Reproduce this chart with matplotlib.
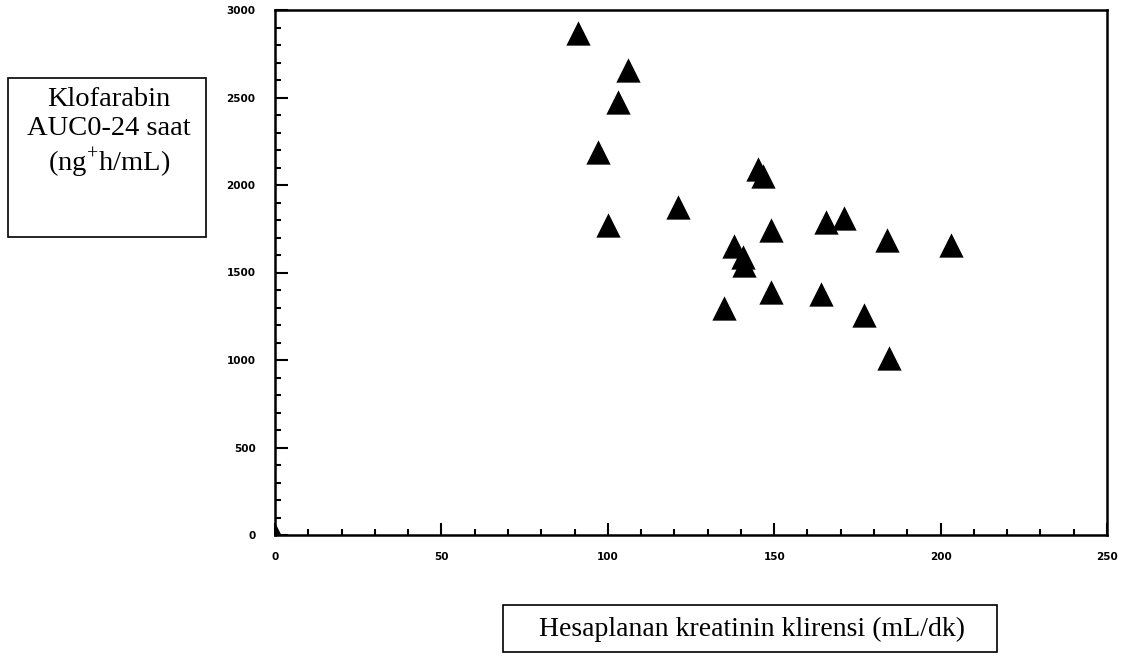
import matplotlib
matplotlib.use("Agg")
import matplotlib.pyplot as plt
from matplotlib.patches import Rectangle
from matplotlib.ticker import MultipleLocator

clearance = [0, 91, 106, 103, 97, 100, 121, 145, 146.5, 149, 165.5, 171, 184, 203,
             138, 140.5, 141, 149, 135, 164, 177, 184.5]
auc = [0, 2870, 2655, 2475, 2190, 1770, 1875, 2090, 2050, 1745, 1790, 1810, 1685, 1655,
       1650, 1590, 1545, 1390, 1295, 1375, 1255, 1010]

x_ticks = [0, 50, 100, 150, 200, 250]
y_ticks = [0, 500, 1000, 1500, 2000, 2500, 3000]

fig = plt.figure(figsize=(11.27, 6.59), dpi=100)
ax = fig.add_axes([275/1127, 1-535/659, (1107-275)/1127, (535-10)/659])

ax.scatter(clearance, auc, marker='^', s=(17.5)**2, color='black', linewidths=0, zorder=3)

ax.set_xlim(0, 250)
ax.set_ylim(0, 3000)
ax.set_xticks(x_ticks)
ax.set_yticks(y_ticks)
ax.xaxis.set_minor_locator(MultipleLocator(10))
ax.yaxis.set_minor_locator(MultipleLocator(100))
ax.set_xticklabels([str(v) for v in x_ticks], fontsize=7.5, fontweight='heavy', family='DejaVu Sans')
ax.set_yticklabels([str(v) for v in y_ticks], fontsize=7.5, fontweight='heavy', family='DejaVu Sans')
ax.tick_params(axis='both', which='major', direction='in', length=9, width=1.5, color='black')
ax.tick_params(axis='both', which='minor', direction='in', length=4, width=1.5, color='black')
ax.tick_params(axis='x', which='major', pad=12)
ax.tick_params(axis='y', which='major', pad=14)
for sp in ax.spines.values():
    sp.set_linewidth(1.8)
    sp.set_color('black')

W, H = 1127, 659
# y label box
fig.patches.append(Rectangle((8/W, 1-237/H), (206-8)/W, (237-78)/H, transform=fig.transFigure,
                             fill=False, edgecolor='black', linewidth=1.2))
fig.text(109/W, 1-87/H, 'Klofarabin\nAUC0-24 saat\n(ng$^{\\mathregular{+}}$h/mL)',
         ha='center', va='top', fontsize=20.5, family='Liberation Serif', linespacing=1.2)

# x label box
fig.patches.append(Rectangle((503/W, 1-652/H), (997-503)/W, (652-605)/H, transform=fig.transFigure,
                             fill=False, edgecolor='black', linewidth=1.2))
fig.text(752/W, 1-629/H, 'Hesaplanan kreatinin klirensi (mL/dk)',
         ha='center', va='center', fontsize=20, family='Liberation Serif')

fig.savefig('out.png', dpi=100)
